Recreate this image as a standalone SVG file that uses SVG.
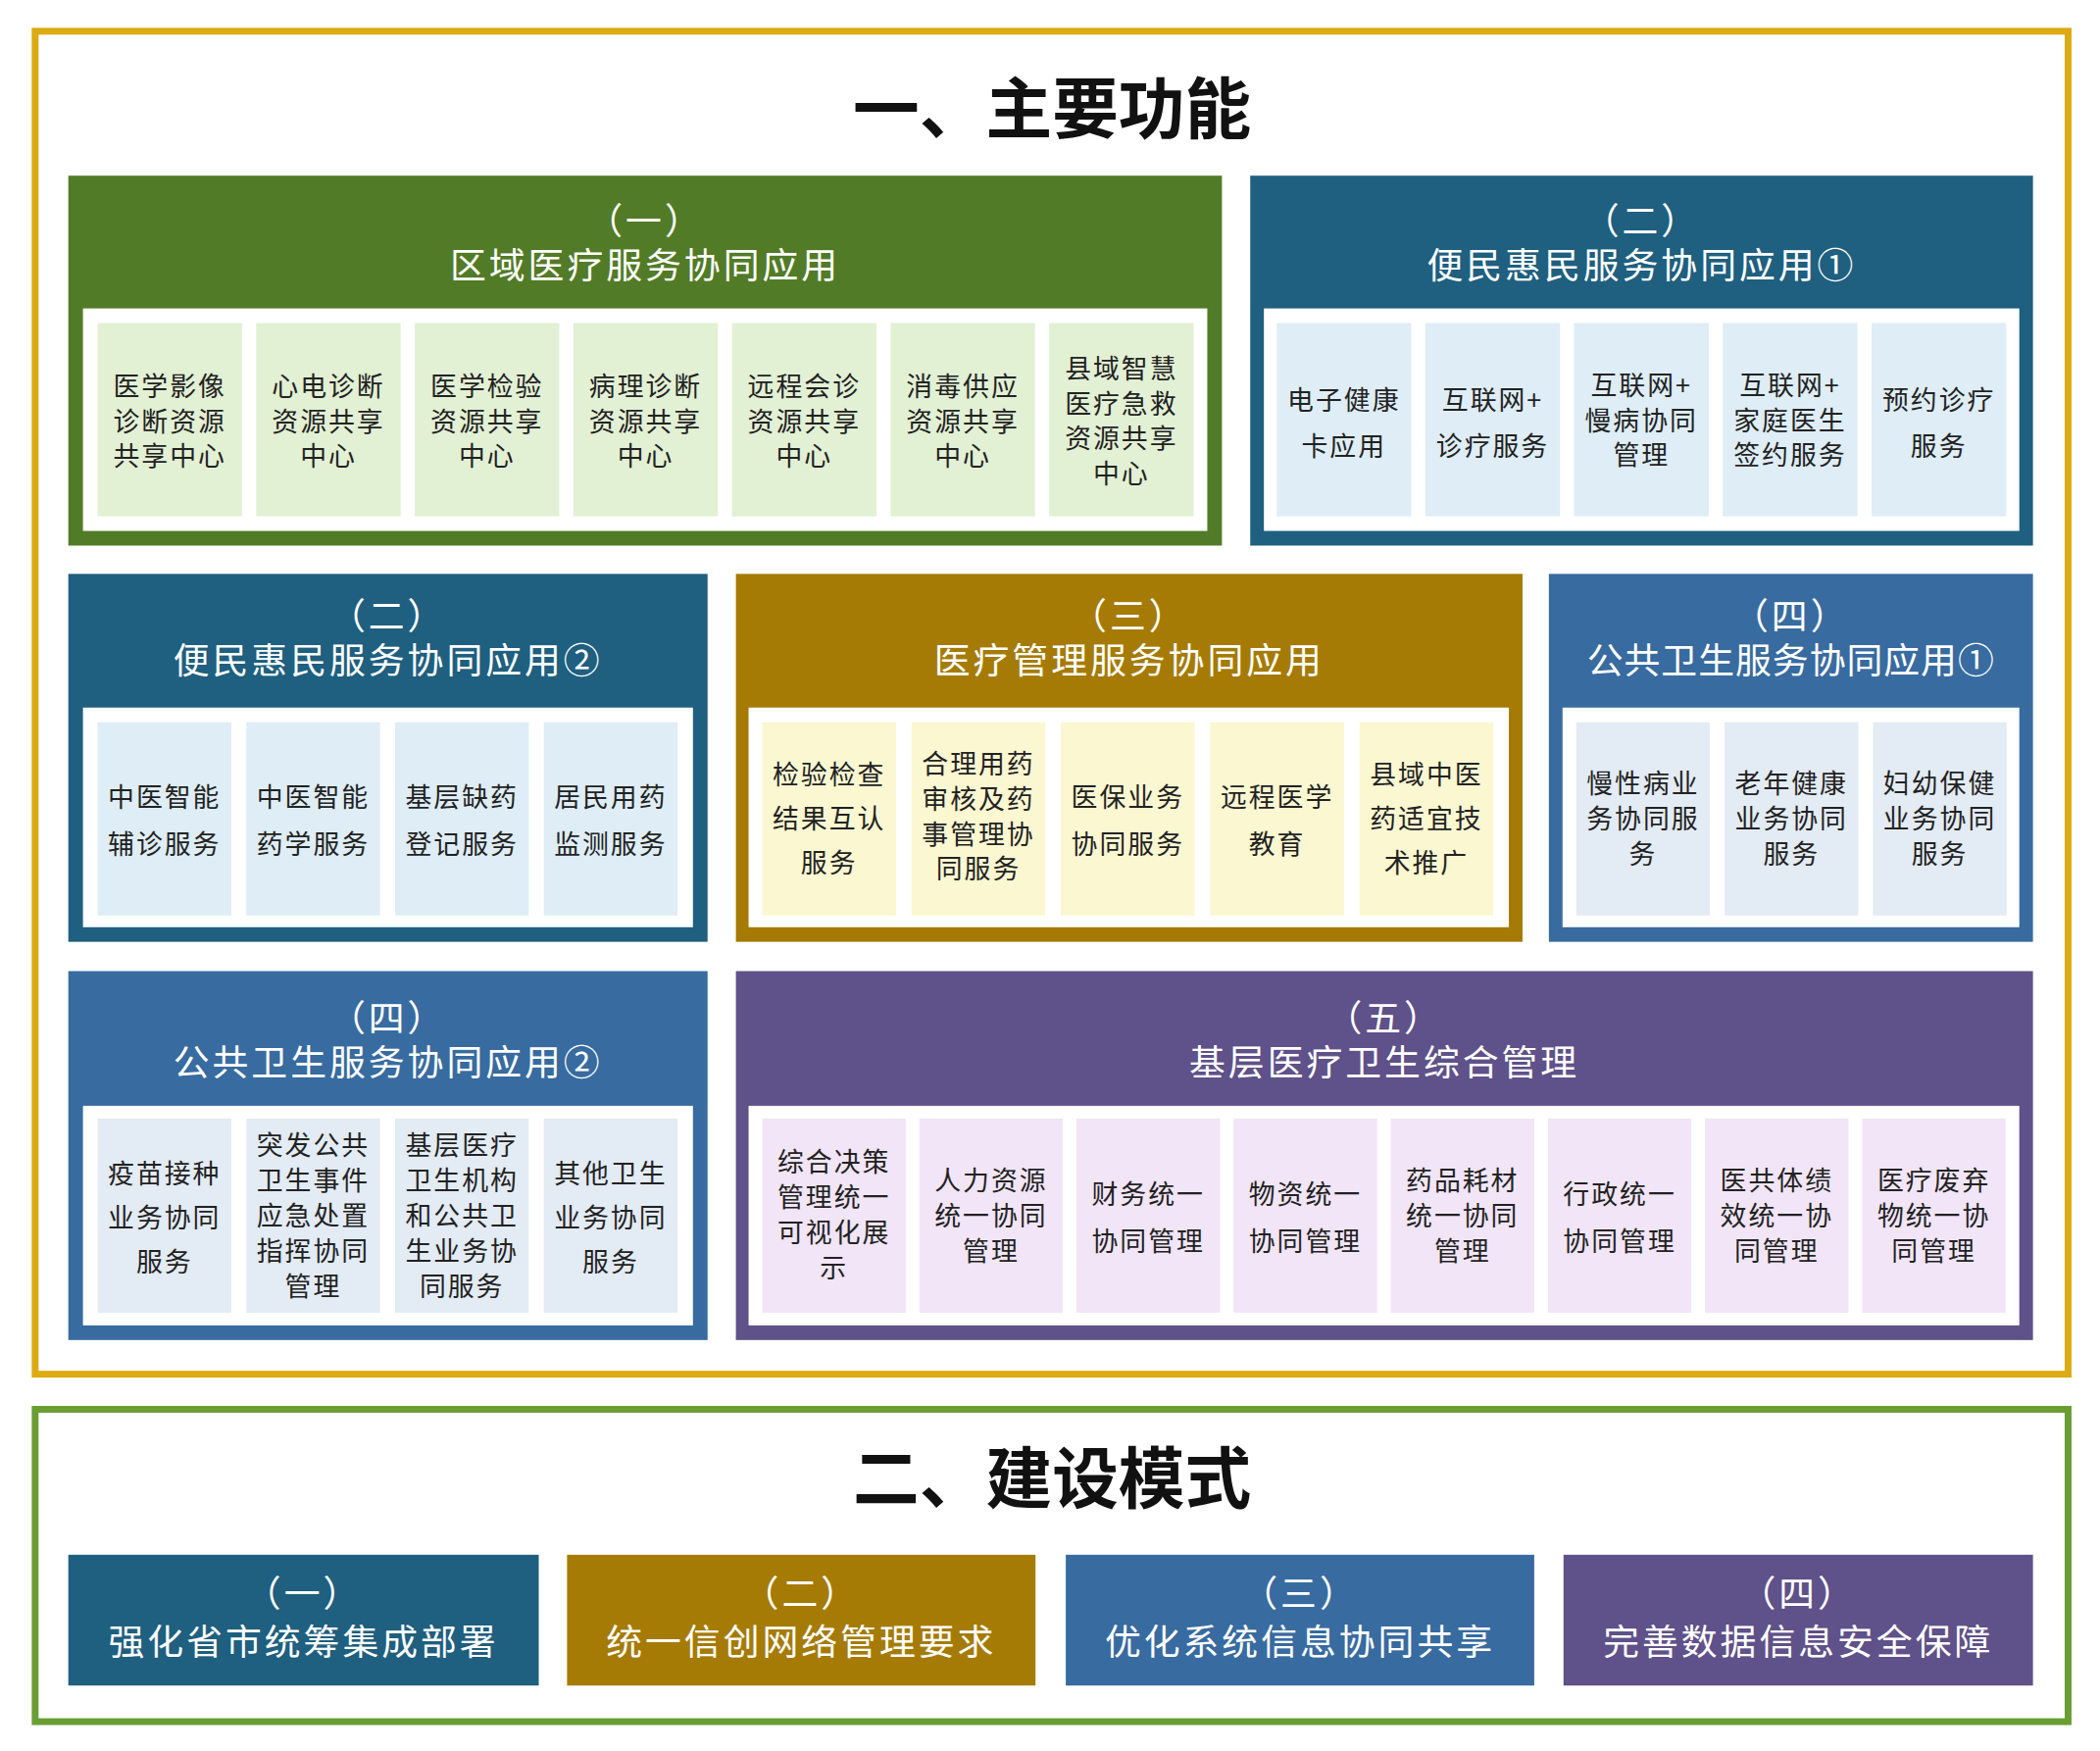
<svg xmlns="http://www.w3.org/2000/svg" width="2142" height="1786" viewBox="0 0 2142 1786">
<style>
text{font-family:"Noto Sans CJK SC","Noto Sans",sans-serif;text-anchor:middle;dominant-baseline:central}
.big{font-size:68px;font-weight:bold;fill:#111}
.h{font-size:37px;fill:#fff;letter-spacing:3px}
.c{font-size:27px;fill:#222;letter-spacing:2px}
.w{fill:#fff}
.g1{fill:#e2f0d4}.b1{fill:#deedf6}.y1{fill:#fbf7d1}.b2{fill:#e3ebf4}.p1{fill:#f1e5f7}
</style>
<g transform="scale(0.9955)">
<rect x="36" y="32" width="2083" height="1376" fill="#fff" stroke="#dcaa12" stroke-width="7"/>
<rect x="36" y="1444" width="2083" height="320" fill="#fff" stroke="#6a9e32" stroke-width="7"/>
<text class="big" x="1078" y="106">一、主要功能</text>
<text class="big" x="1078" y="1510">二、建设模式</text>
<g id="p1">
<rect x="70" y="180" width="1182" height="379" fill="#527b27"/>
<text class="h" x="661" y="224">（一）</text><text class="h" x="661" y="269">区域医疗服务协同应用</text>
<rect class="w" x="85" y="316" width="1152" height="228"/>
<rect class="g1" x="100" y="331" width="148" height="198"/><rect class="g1" x="262.5" y="331" width="148" height="198"/><rect class="g1" x="425" y="331" width="148" height="198"/><rect class="g1" x="587.5" y="331" width="148" height="198"/><rect class="g1" x="750" y="331" width="148" height="198"/><rect class="g1" x="912.5" y="331" width="148" height="198"/><rect class="g1" x="1075" y="331" width="148" height="198"/>
<text class="c" x="174" y="394">医学影像</text><text class="c" x="174" y="430">诊断资源</text><text class="c" x="174" y="466">共享中心</text>
<text class="c" x="336.5" y="394">心电诊断</text><text class="c" x="336.5" y="430">资源共享</text><text class="c" x="336.5" y="466">中心</text>
<text class="c" x="499" y="394">医学检验</text><text class="c" x="499" y="430">资源共享</text><text class="c" x="499" y="466">中心</text>
<text class="c" x="661.5" y="394">病理诊断</text><text class="c" x="661.5" y="430">资源共享</text><text class="c" x="661.5" y="466">中心</text>
<text class="c" x="824" y="394">远程会诊</text><text class="c" x="824" y="430">资源共享</text><text class="c" x="824" y="466">中心</text>
<text class="c" x="986.5" y="394">消毒供应</text><text class="c" x="986.5" y="430">资源共享</text><text class="c" x="986.5" y="466">中心</text>
<text class="c" x="1149" y="376">县域智慧</text><text class="c" x="1149" y="412">医疗急救</text><text class="c" x="1149" y="448">资源共享</text><text class="c" x="1149" y="484">中心</text>
</g>
<g id="p2a">
<rect x="1281" y="180" width="802" height="379" fill="#1f5f7f"/>
<text class="h" x="1682" y="224">（二）</text><text class="h" x="1682" y="269">便民惠民服务协同应用①</text>
<rect class="w" x="1295" y="316" width="774" height="228"/>
<rect class="b1" x="1308" y="331" width="138" height="198"/><rect class="b1" x="1460.4" y="331" width="138" height="198"/><rect class="b1" x="1612.8" y="331" width="138" height="198"/><rect class="b1" x="1765.2" y="331" width="138" height="198"/><rect class="b1" x="1917.6" y="331" width="138" height="198"/>
<text class="c" x="1377" y="408">电子健康</text><text class="c" x="1377" y="456">卡应用</text>
<text class="c" x="1529.4" y="408">互联网+</text><text class="c" x="1529.4" y="456">诊疗服务</text>
<text class="c" x="1681.8" y="393">互联网+</text><text class="c" x="1681.8" y="429">慢病协同</text><text class="c" x="1681.8" y="465">管理</text>
<text class="c" x="1834.2" y="393">互联网+</text><text class="c" x="1834.2" y="429">家庭医生</text><text class="c" x="1834.2" y="465">签约服务</text>
<text class="c" x="1986.6" y="408">预约诊疗</text><text class="c" x="1986.6" y="456">服务</text>
</g>
<g id="p2b">
<rect x="70" y="588" width="655" height="377" fill="#1f5f7f"/>
<text class="h" x="397.5" y="629">（二）</text><text class="h" x="397.5" y="674">便民惠民服务协同应用②</text>
<rect class="w" x="85" y="725" width="625" height="225"/>
<rect class="b1" x="100" y="740" width="137" height="198"/><rect class="b1" x="252.4" y="740" width="137" height="198"/><rect class="b1" x="404.8" y="740" width="137" height="198"/><rect class="b1" x="557.2" y="740" width="137" height="198"/>
<text class="c" x="168.5" y="815">中医智能</text><text class="c" x="168.5" y="863">辅诊服务</text>
<text class="c" x="320.9" y="815">中医智能</text><text class="c" x="320.9" y="863">药学服务</text>
<text class="c" x="473.3" y="815">基层缺药</text><text class="c" x="473.3" y="863">登记服务</text>
<text class="c" x="625.7" y="815">居民用药</text><text class="c" x="625.7" y="863">监测服务</text>
</g>
<g id="p3">
<rect x="754" y="588" width="806" height="377" fill="#a57b06"/>
<text class="h" x="1157" y="629">（三）</text><text class="h" x="1157" y="674">医疗管理服务协同应用</text>
<rect class="w" x="767" y="725" width="779" height="225"/>
<rect class="y1" x="781" y="740" width="137" height="198"/><rect class="y1" x="934" y="740" width="137" height="198"/><rect class="y1" x="1087" y="740" width="137" height="198"/><rect class="y1" x="1240" y="740" width="137" height="198"/><rect class="y1" x="1393" y="740" width="137" height="198"/>
<text class="c" x="849.5" y="792">检验检查</text><text class="c" x="849.5" y="837">结果互认</text><text class="c" x="849.5" y="882">服务</text>
<text class="c" x="1002.5" y="781">合理用药</text><text class="c" x="1002.5" y="817">审核及药</text><text class="c" x="1002.5" y="853">事管理协</text><text class="c" x="1002.5" y="889">同服务</text>
<text class="c" x="1155.5" y="815">医保业务</text><text class="c" x="1155.5" y="863">协同服务</text>
<text class="c" x="1308.5" y="815">远程医学</text><text class="c" x="1308.5" y="863">教育</text>
<text class="c" x="1461.5" y="792">县域中医</text><text class="c" x="1461.5" y="837">药适宜技</text><text class="c" x="1461.5" y="882">术推广</text>
</g>
<g id="p4a">
<rect x="1587" y="588" width="496" height="377" fill="#386ba0"/>
<text class="h" x="1835" y="629">（四）</text><text class="h" x="1835" y="674" style="letter-spacing:1px">公共卫生服务协同应用①</text>
<rect class="w" x="1601" y="725" width="468" height="225"/>
<rect class="b2" x="1615" y="740" width="137" height="198"/><rect class="b2" x="1767" y="740" width="137" height="198"/><rect class="b2" x="1919" y="740" width="137" height="198"/>
<text class="c" x="1683.5" y="801">慢性病业</text><text class="c" x="1683.5" y="837">务协同服</text><text class="c" x="1683.5" y="873">务</text>
<text class="c" x="1835.5" y="801">老年健康</text><text class="c" x="1835.5" y="837">业务协同</text><text class="c" x="1835.5" y="873">服务</text>
<text class="c" x="1987.5" y="801">妇幼保健</text><text class="c" x="1987.5" y="837">业务协同</text><text class="c" x="1987.5" y="873">服务</text>
</g>
<g id="p4b">
<rect x="70" y="995" width="655" height="378" fill="#386ba0"/>
<text class="h" x="397.5" y="1041">（四）</text><text class="h" x="397.5" y="1086">公共卫生服务协同应用②</text>
<rect class="w" x="85" y="1133" width="625" height="225"/>
<rect class="b2" x="100" y="1146" width="137" height="199"/><rect class="b2" x="252.4" y="1146" width="137" height="199"/><rect class="b2" x="404.8" y="1146" width="137" height="199"/><rect class="b2" x="557.2" y="1146" width="137" height="199"/>
<text class="c" x="168.5" y="1201">疫苗接种</text><text class="c" x="168.5" y="1246">业务协同</text><text class="c" x="168.5" y="1291">服务</text>
<text class="c" x="320.9" y="1172">突发公共</text><text class="c" x="320.9" y="1208">卫生事件</text><text class="c" x="320.9" y="1244">应急处置</text><text class="c" x="320.9" y="1280">指挥协同</text><text class="c" x="320.9" y="1316">管理</text>
<text class="c" x="473.3" y="1172">基层医疗</text><text class="c" x="473.3" y="1208">卫生机构</text><text class="c" x="473.3" y="1244">和公共卫</text><text class="c" x="473.3" y="1280">生业务协</text><text class="c" x="473.3" y="1316">同服务</text>
<text class="c" x="625.7" y="1201">其他卫生</text><text class="c" x="625.7" y="1246">业务协同</text><text class="c" x="625.7" y="1291">服务</text>
</g>
<g id="p5">
<rect x="754" y="995" width="1329" height="378" fill="#5f5189"/>
<text class="h" x="1418.5" y="1041">（五）</text><text class="h" x="1418.5" y="1086">基层医疗卫生综合管理</text>
<rect class="w" x="767" y="1133" width="1302" height="225"/>
<rect class="p1" x="781" y="1146" width="147" height="199"/><rect class="p1" x="942" y="1146" width="147" height="199"/><rect class="p1" x="1103" y="1146" width="147" height="199"/><rect class="p1" x="1264" y="1146" width="147" height="199"/><rect class="p1" x="1425" y="1146" width="147" height="199"/><rect class="p1" x="1586" y="1146" width="147" height="199"/><rect class="p1" x="1747" y="1146" width="147" height="199"/><rect class="p1" x="1908" y="1146" width="147" height="199"/>
<text class="c" x="854.5" y="1189">综合决策</text><text class="c" x="854.5" y="1225">管理统一</text><text class="c" x="854.5" y="1261">可视化展</text><text class="c" x="854.5" y="1297">示</text>
<text class="c" x="1015.5" y="1208">人力资源</text><text class="c" x="1015.5" y="1244">统一协同</text><text class="c" x="1015.5" y="1280">管理</text>
<text class="c" x="1176.5" y="1222">财务统一</text><text class="c" x="1176.5" y="1270">协同管理</text>
<text class="c" x="1337.5" y="1222">物资统一</text><text class="c" x="1337.5" y="1270">协同管理</text>
<text class="c" x="1498.5" y="1208">药品耗材</text><text class="c" x="1498.5" y="1244">统一协同</text><text class="c" x="1498.5" y="1280">管理</text>
<text class="c" x="1659.5" y="1222">行政统一</text><text class="c" x="1659.5" y="1270">协同管理</text>
<text class="c" x="1820.5" y="1208">医共体绩</text><text class="c" x="1820.5" y="1244">效统一协</text><text class="c" x="1820.5" y="1280">同管理</text>
<text class="c" x="1981.5" y="1208">医疗废弃</text><text class="c" x="1981.5" y="1244">物统一协</text><text class="c" x="1981.5" y="1280">同管理</text>
</g>
<g id="m1"><rect x="70" y="1593" width="482" height="134" fill="#1f5f7f"/><text class="h" x="311" y="1630">（一）</text><text class="h" x="311" y="1680">强化省市统筹集成部署</text></g>
<g id="m2"><rect x="581" y="1593" width="480" height="134" fill="#a57b06"/><text class="h" x="821" y="1630">（二）</text><text class="h" x="821" y="1680">统一信创网络管理要求</text></g>
<g id="m3"><rect x="1092" y="1593" width="480" height="134" fill="#386ba0"/><text class="h" x="1332" y="1630">（三）</text><text class="h" x="1332" y="1680">优化系统信息协同共享</text></g>
<g id="m4"><rect x="1602" y="1593" width="481" height="134" fill="#5f5189"/><text class="h" x="1842.5" y="1630">（四）</text><text class="h" x="1842.5" y="1680">完善数据信息安全保障</text></g>
<g id="connectors"/>
</g>
</svg>
